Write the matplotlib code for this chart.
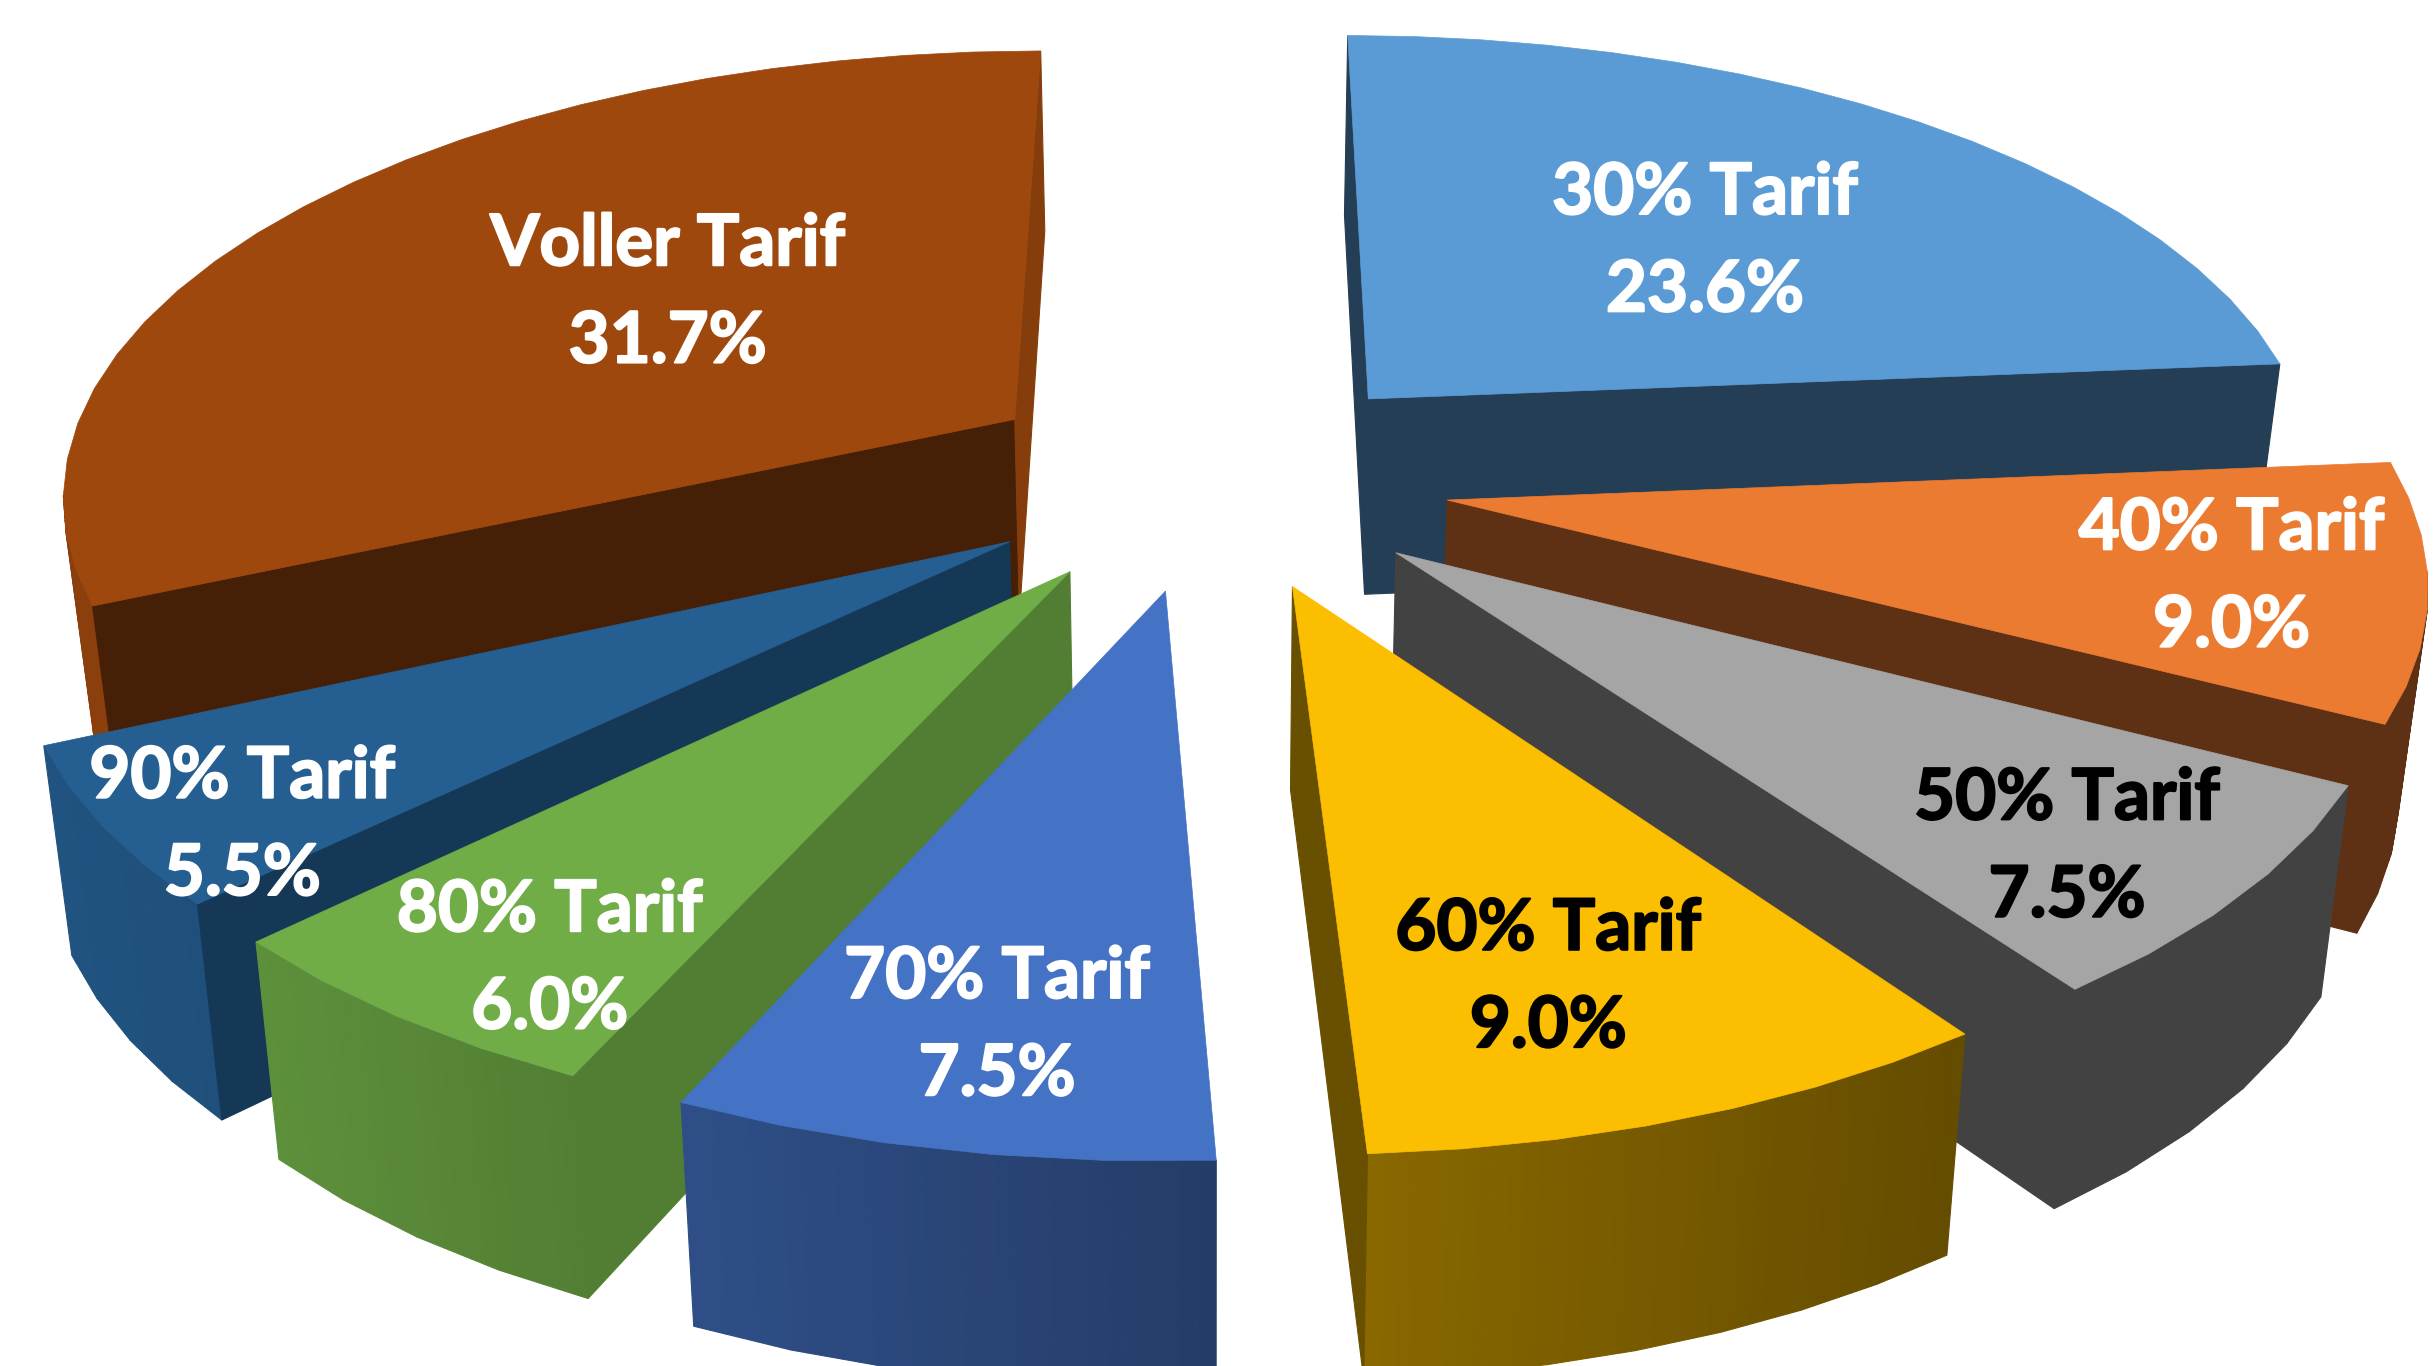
import numpy as np
import matplotlib
matplotlib.use("Agg")
import matplotlib.pyplot as plt
import matplotlib.patheffects as pe
from matplotlib.colors import to_rgb
from matplotlib.patches import Polygon

plt.rcParams['font.family'] = ['Lato', 'DejaVu Sans']

# data, clockwise from 12 o'clock
names = ["30% Tarif", "40% Tarif", "50% Tarif", "60% Tarif",
         "70% Tarif", "80% Tarif", "90% Tarif", "Voller Tarif"]
shares = [23.6, 9.0, 7.5, 9.0, 7.5, 6.0, 5.5, 31.7]
pct_labels = ["23.6%", "9.0%", "7.5%", "9.0%", "7.5%", "6.0%", "5.5%", "31.7%"]
colors = ["#5B9BD5", "#EB7B31", "#A5A5A5", "#FBBE00",
          "#4472C4", "#70AD47", "#255E91", "#9E480E"]
text_colors = ["white", "white", "black", "black", "white", "white", "white", "white"]
label_x = [1098, 1437, 1331, 997, 642, 354, 156, 430]
label_y = [156, 372, 546, 630, 661, 618, 532, 189]
draw_order = [7, 0, 1, 6, 2, 5, 3, 4]

# how dark the two cut faces of each slice are
shade_start = [0.40, 0.40, 0.40, 0.42, 0.50, 0.73, 0.60, 0.44]
shade_end = [0.40, 0.40, 0.40, 0.42, 0.50, 0.60, 0.60, 0.85]
# outer wall lighting against screen x
light_x = [40, 170, 370, 440, 780, 875, 1260]
light_f = [0.88, 0.83, 0.73, 0.69, 0.53, 0.55, 0.40]

# view of the pie, in the 1568x880 shrunk frame
cx, cy = 780, 308
A, B, k = 615, 285, 0.155
depth = 128
explode = 0.25


def project(u, v, z=0.0):
    w = 1 / (1 - k * v)
    sx = A * u * w
    sy = B * v * w
    # bottom face shrinks a little towards the centre
    f = 1 - 0.024 * z
    return cx + sx * f, cy + sy + z * depth * w ** 0.6


def wall(ax, pts_u, pts_v, color, z):
    xt, yt = project(pts_u, pts_v, 0)
    xb, yb = project(pts_u, pts_v, 1)
    pts = np.column_stack([np.r_[xt, xb[::-1]], np.r_[yt, yb[::-1]]])
    ax.add_patch(Polygon(pts, closed=True, fc=color, ec=color, lw=0.8, zorder=z))


def facing(u0, v0, u1, v1):
    # a wall under a clockwise edge shows only when the edge runs right to left
    return project(u1, v1)[0] < project(u0, v0)[0]


def shade(c, f):
    return tuple(np.array(to_rgb(c)) * f)


fig = plt.figure(figsize=(24.35, 13.66), dpi=100)
ax = fig.add_axes([0, 0, 1, 1])
ax.set_xlim(0, 1568)
ax.set_ylim(880, 0)
ax.axis("off")

edges = np.cumsum([0] + shares) / sum(shares) * 2 * np.pi

for n, i in enumerate(draw_order):
    a0, a1 = edges[i], edges[i + 1]
    mid = (a0 + a1) / 2
    ou, ov = explode * np.sin(mid), -explode * np.cos(mid)
    steps = max(2, int(np.degrees(a1 - a0) / 4.6))
    th = np.linspace(a0, a1, steps + 1)
    arc_u = ou + np.sin(th)
    arc_v = ov - np.cos(th)
    z = 10 + n

    # outer wall: coarse facets, each with a soft left to right gradient
    for j in range(steps):
        if not facing(arc_u[j], arc_v[j], arc_u[j + 1], arc_v[j + 1]):
            continue
        tt = np.linspace(0, 1, 7)
        su = arc_u[j] + tt * (arc_u[j + 1] - arc_u[j])
        sv = arc_v[j] + tt * (arc_v[j + 1] - arc_v[j])
        for m in range(6):
            mx = project((su[m] + su[m + 1]) / 2, (sv[m] + sv[m + 1]) / 2)[0]
            f = np.interp(mx, light_x, light_f)
            wall(ax, su[m:m + 2], sv[m:m + 2], shade(colors[i], f), z)

    # cut faces
    if facing(ou, ov, arc_u[0], arc_v[0]):
        wall(ax, np.array([ou, arc_u[0]]), np.array([ov, arc_v[0]]),
             shade(colors[i], shade_start[i]), z)
    if facing(arc_u[-1], arc_v[-1], ou, ov):
        wall(ax, np.array([ou, arc_u[-1]]), np.array([ov, arc_v[-1]]),
             shade(colors[i], shade_end[i]), z)

    xt, yt = project(np.r_[ou, arc_u], np.r_[ov, arc_v])
    ax.add_patch(Polygon(np.column_stack([xt, yt]), closed=True, fc=colors[i],
                         ec=colors[i], lw=0.5, zorder=z))

for i in range(len(names)):
    t = ax.text(label_x[i], label_y[i], names[i] + "\n" + pct_labels[i], color=text_colors[i],
                fontsize=51, fontweight="bold", ha="center", va="center",
                linespacing=1.61, zorder=30)
    t.set_path_effects([pe.withStroke(linewidth=1.5, foreground=text_colors[i])])

fig.savefig("out.png", dpi=100)
